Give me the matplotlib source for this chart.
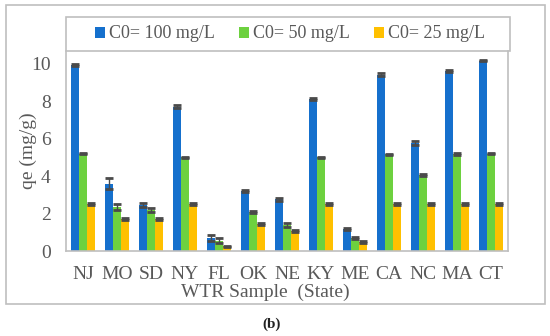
"""Adsorption capacity of WTR samples by state, three initial concentrations."""

import matplotlib.pyplot as plt
import numpy as np
from matplotlib.patches import Rectangle

states = ["NJ", "MO", "SD", "NY", "FL", "OK", "NE", "KY", "ME", "CA", "NC", "MA", "CT"]
series_names = ["C0= 100 mg/L", "C0= 50 mg/L", "C0= 25 mg/L"]

qe_100 = [9.9, 3.6, 2.45, 7.7, 0.68, 3.2, 2.75, 8.1, 1.17, 9.4, 5.75, 9.6, 10.15]
qe_50 = [5.2, 2.35, 2.18, 5.0, 0.55, 2.1, 1.38, 5.0, 0.7, 5.15, 4.05, 5.18, 5.2]
qe_25 = [2.52, 1.72, 1.72, 2.52, 0.25, 1.45, 1.07, 2.52, 0.47, 2.52, 2.5, 2.52, 2.52]

err_100 = [0.05, 0.3, 0.12, 0.08, 0.15, 0.05, 0.07, 0.05, 0.04, 0.08, 0.1, 0.05, 0.04]
err_50 = [0.04, 0.15, 0.1, 0.04, 0.12, 0.05, 0.1, 0.04, 0.06, 0.04, 0.06, 0.04, 0.04]
err_25 = [0.04, 0.05, 0.04, 0.04, 0.04, 0.05, 0.04, 0.04, 0.04, 0.04, 0.04, 0.04, 0.04]

colors = ["#1570CD", "#6DD13F", "#FFC000"]
text_color = "#595959"
frame_color = "#BFBFBF"

plt.rcParams["font.family"] = ["Liberation Serif", "DejaVu Serif"]

fig = plt.figure(figsize=(5.5, 3.36), dpi=100)

# outer chart border and legend box
fig.patches.append(
    Rectangle((6 / 550, 1 - 304 / 336), 539 / 550, 299 / 336,
              transform=fig.transFigure, fill=False, edgecolor=frame_color, lw=1.2)
)
fig.patches.append(
    Rectangle((66 / 550, 1 - 51 / 336), 444 / 550, 34 / 336,
              transform=fig.transFigure, fill=False, edgecolor=frame_color, lw=1.2)
)

ax = fig.add_axes([66 / 550, 1 - 251 / 336, 442 / 550, 200 / 336])

x = np.arange(len(states))
width = 0.226
values = [qe_100, qe_50, qe_25]
errors = [err_100, err_50, err_25]
handles = []
for i in range(3):
    pos = x + (i - 1) * width
    bars = ax.bar(pos, values[i], width, color=colors[i], label=series_names[i], zorder=2)
    ax.errorbar(pos, values[i], yerr=errors[i], fmt="none", ecolor="#4A4A4A",
                elinewidth=1, capsize=3, capthick=2, zorder=3)
    handles.append(bars)

ax.set_xlim(-0.5, len(states) - 0.5)
ax.set_ylim(0, 10.67)
ax.set_yticks([0, 2, 4, 6, 8, 10])
ax.set_xticks(x)
ax.set_xticklabels(states)
ax.tick_params(axis="both", length=0, labelsize=14, colors=text_color)
ax.tick_params(axis="x", pad=11)
ax.tick_params(axis="y", pad=11)

for side in ["left", "right", "bottom"]:
    ax.spines[side].set_color(frame_color)
    ax.spines[side].set_linewidth(1.2)
ax.spines["top"].set_visible(False)

ax.set_xlabel("WTR Sample  (State)", fontsize=14, color=text_color)
ax.xaxis.set_label_coords(0.452, -0.205)
ax.xaxis.label.set_va("center")
ax.set_ylabel("qe (mg/g)", fontsize=14, color=text_color)
ax.yaxis.set_label_coords(-0.086, 0.5)
ax.yaxis.label.set_va("center")

# legend entries (frame drawn above)
leg = fig.legend(handles=handles, loc="center", ncol=3,
                 bbox_to_anchor=(290 / 550, 1 - 34 / 336),
                 frameon=False, fontsize=13, handlelength=0.55,
                 handleheight=0.55, handletextpad=0.25, columnspacing=1.3,
                 borderaxespad=0, borderpad=0, labelcolor=text_color)

fig.text(272 / 550, 1 - 324 / 336, "(b)", ha="center", va="center",
         fontsize=11, fontweight="bold", color="#222222")

plt.savefig("out.png", dpi=100)
plt.close()
